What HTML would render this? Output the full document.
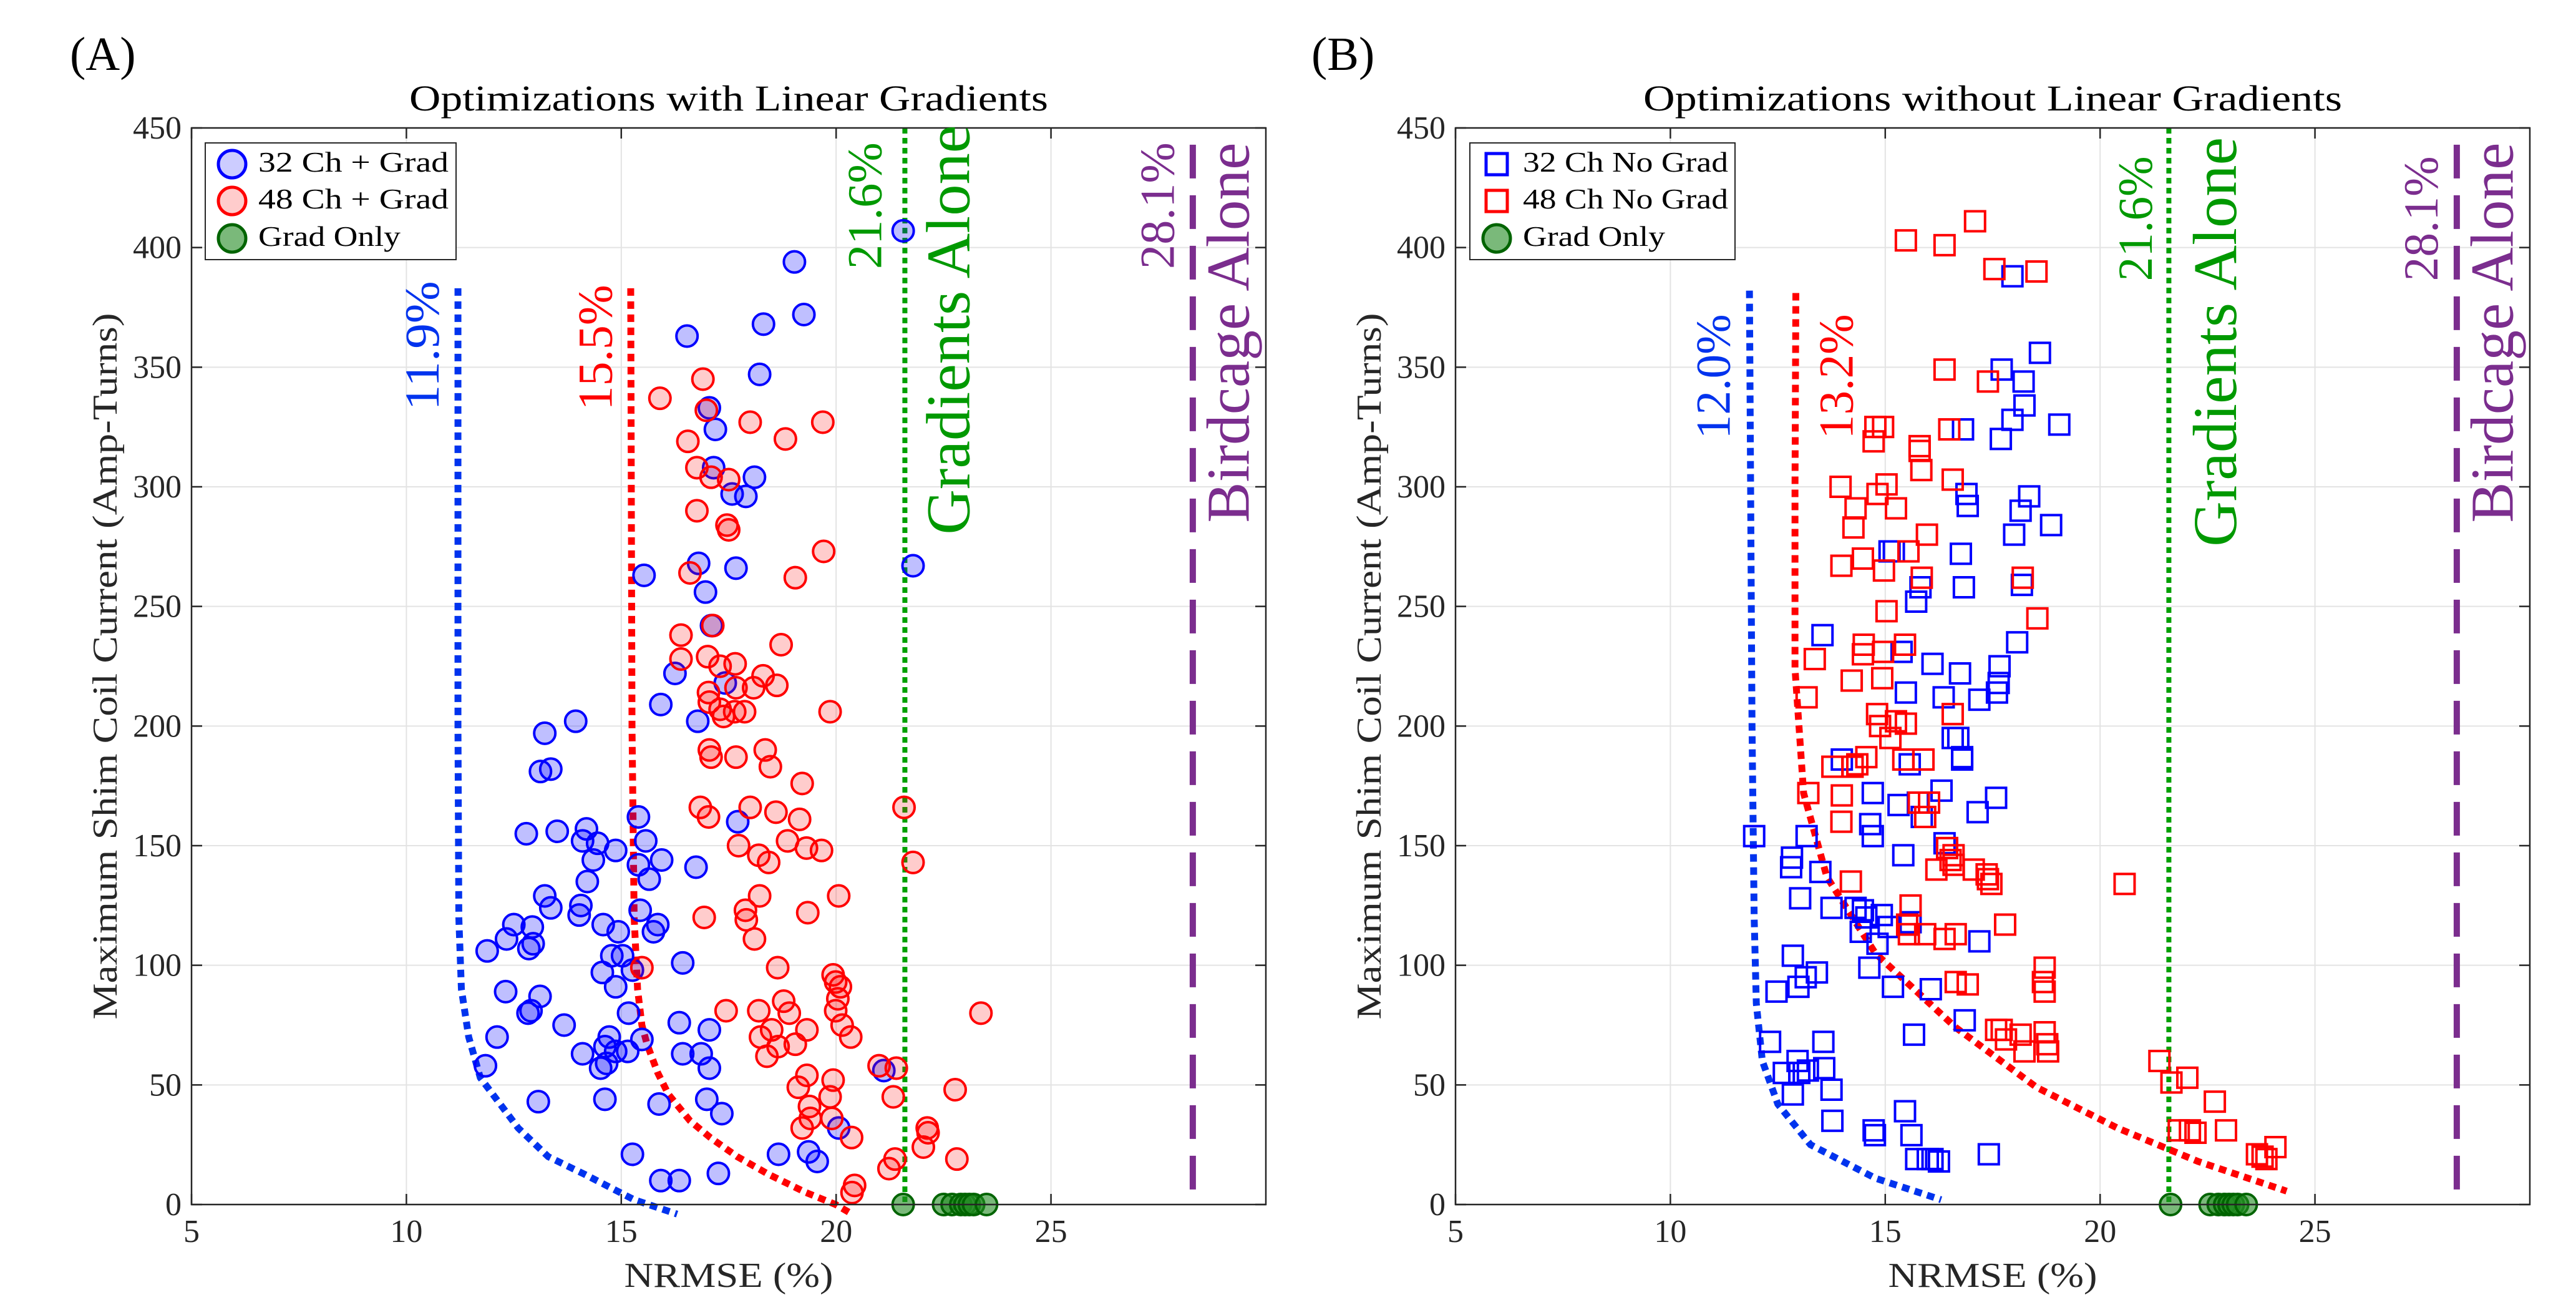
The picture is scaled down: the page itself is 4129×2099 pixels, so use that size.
<!DOCTYPE html>
<html><head><meta charset="utf-8"><style>
html,body{margin:0;padding:0;background:#fff;}
svg{display:block;font-family:"Liberation Serif",serif;}
</style></head><body>
<svg id="fig" width="4129" height="2099" viewBox="0 0 4129 2099" xmlns="http://www.w3.org/2000/svg"></svg>
<script>
// ---------- data ----------
const xTicks=[5,10,15,20,25];
const yTicks=[0,50,100,150,200,250,300,350,400,450];
// Panel A: 32 Ch + Grad
const aBlueX=[21.56,19.03,19.25,16.53,18.31,18.22,17.05,17.19,17.15,18.1,17.58,17.9,16.8,15.53,17.67,21.79,16.96,17.1,16.25,17.42,15.92,16.78,13.94,13.22,13.12,13.36,17.71,15.4,12.79,13.51,14.19,14.1,14.45,15.57,14.87,14.35,15.4,15.94,16.74,15.65,14.21,13.22,13.36,14.06,14.02,12.5,12.93,12.33,12.95,12.85,11.88,14.58,14.93,15.44,15.85,15.75,14.78,15.03,14.56,15.26,16.43,12.31,13.11,14.87,15.17,12.83,12.9,13.67,16.35,17.05,12.11,15.48,14.72,14.62,14.87,15.15,14.1,16.43,16.86,11.84,14.52,14.66,17.05,21.11,14.62,13.07,16.99,15.88,17.34,20.06,18.66,19.36,19.56,15.26,17.26,15.92,16.35];
const aBlueY=[407,394,372,363,368,347,333,324,308,304,297,296,268,263,266,267,256,242,222,218,209,202,202,197,181,182,160,162,155,156,157,152,151,152,148,144,142,144,141,136,135,129,124,125,121,117,116,111,109,107,106,117,114,123,117,114,104,104,97,98,101,89,87,91,80,80,81,75,76,73,70,69,70,66,64,64,63,63,63,58,57,59,57,56,44,43,44,42,38,32,21,22,18,21,13,10,10];
// Panel A: 48 Ch + Grad
const aRedX=[15.9,19.69,18.0,16.98,16.9,16.55,18.82,16.76,17.09,17.5,16.76,17.46,17.5,19.71,19.05,16.6,16.39,16.39,17.01,17.13,17.3,17.65,18.72,18.3,18.08,18.62,17.03,17.05,17.3,17.38,17.64,17.87,17.67,19.86,17.05,17.09,17.67,18.35,18.47,19.21,16.84,17.03,18.0,18.6,19.15,17.73,18.87,19.31,19.66,18.2,18.43,18.22,17.89,17.91,18.1,16.93,20.06,19.34,15.48,18.64,19.93,19.99,20.1,20.04,21.79,21.58,18.78,18.91,19.99,17.44,18.2,18.24,18.5,18.65,18.39,19.05,19.32,20.14,20.34,19.32,19.12,19.93,19.38,19.4,19.21,19.86,19.9,20.36,21.0,21.4,21.33,22.12,22.14,22.03,22.77,22.81,23.37,21.37,21.23,20.43,20.37];
const aRedY=[337,327,327,332,345,319,320,308,304,303,290,284,282,273,262,264,238,228,229,242,225,226,234,221,216,217,214,210,207,204,206,206,216,206,190,187,187,190,183,176,166,162,166,164,161,150,152,149,148,146,143,129,123,119,111,120,129,122,99,99,96,93,91,86,143,166,85,80,81,81,81,70,73,66,62,67,73,75,70,54,49,52,41,36,32,45,36,28,58,57,45,32,30,24,48,19,80,19,15,8,5];
const aGreenX=[21.56,22.5,22.7,22.9,23.0,23.1,23.2,23.5];
const aGreenY=[0,0,0,0,0,0,0,0];
// Panel A pareto curves
const aBlueCurveX=[11.2,11.2,11.22,11.28,11.45,11.72,12.6,13.3,14.15,15.3,16.3];
const aBlueCurveY=[383,200,120,90,70,53,32,20,12.6,2,-4];
const aRedCurveX=[15.22,15.25,15.3,15.38,15.48,15.6,15.85,16.1,16.6,17.07,17.7,18.43,19.3,19.99,20.37];
const aRedCurveY=[383,200,120,90,75,67,55,46,35,28,20,12.6,5,0,-4];
// Panel B: 32 Ch No Grad
const bBlueX=[17.96,18.6,17.71,18.22,18.24,17.96,19.05,16.81,17.69,16.89,16.92,18.35,18.15,18.86,18.0,15.1,15.2,16.76,18.18,16.83,15.82,15.72,13.54,18.07,15.38,16.1,17.66,16.74,17.64,17.6,15.48,16.36,17.19,13.99,16.57,16.7,16.79,16.79,15.57,14.71,16.31,17.58,17.15,15.31,15.76,15.85,14.65,14.71,11.95,13.17,16.38,12.83,12.81,13.49,15.42,13.02,13.75,14.31,14.48,14.56,14.92,14.43,15.08,15.59,17.19,14.82,12.85,14.63,13.41,13.15,12.47,12.98,15.18,16.06,16.85,15.67,12.32,13.56,12.96,12.64,13.0,13.2,13.58,12.85,13.75,13.77,15.46,14.73,14.76,15.61,15.72,15.99,16.1,16.25,17.41];
const bBlueY=[388,356,349,344,334,328,326,324,320,297,292,296,290,284,280,273,273,272,259,258,258,252,238,235,231,226,225,222,218,214,214,212,211,186,195,195,187,186,184,172,173,170,164,167,168,162,159,154,154,154,151,145,141,139,146,128,124,124,123,120,121,114,116,118,110,109,104,99,97,95,89,91,91,90,77,71,68,68,60,55,55,56,57,46,48,35,39,31,29,29,19,19,19,18,21];
// Panel B: 48 Ch No Grad
const bRedX=[17.09,15.48,16.38,17.54,18.52,16.38,17.39,14.77,14.95,14.73,15.8,15.8,16.49,15.84,16.57,13.96,15.03,14.82,15.25,14.31,14.26,15.97,15.54,14.48,13.98,14.97,15.85,18.2,15.03,18.54,15.46,14.5,14.48,14.95,13.36,14.22,14.93,13.17,14.81,16.57,15.25,15.48,14.88,15.12,14.56,13.77,14.24,14.35,15.42,15.89,13.21,13.99,15.78,16.02,15.93,13.98,16.44,16.59,16.52,16.19,16.59,17.06,17.36,17.39,17.47,14.2,20.57,15.59,15.51,15.55,15.93,16.38,16.64,17.79,18.71,18.67,18.71,16.64,16.92,17.58,17.71,17.81,18.15,18.71,18.77,18.24,18.79,21.38,21.66,22.03,21.83,22.09,22.22,22.67,22.93,23.65,23.78,23.87,24.08];
const bRedY=[411,403,401,391,390,349,344,325,325,319,317,315,324,307,303,300,301,297,291,291,283,280,273,270,267,265,262,262,248,245,234,234,230,231,228,219,220,212,205,205,202,201,200,195,187,183,183,184,186,186,172,171,168,168,162,160,149,146,144,140,142,140,138,136,134,135,134,125,117,113,113,111,113,117,99,93,89,93,92,73,73,69,71,72,67,64,64,60,51,53,31,31,30,43,31,21,20,19,24];
const bGreenX=[21.64,22.56,22.75,22.9,23.0,23.1,23.2,23.4];
const bGreenY=[0,0,0,0,0,0,0,0];
const bBlueCurveX=[11.84,11.9,11.95,12.0,12.14,12.5,13.26,14.77,16.3];
const bBlueCurveY=[382,200,120,84,60,42,25,11,2];
const bRedCurveX=[12.92,12.9,12.9,13.1,13.64,14.77,16.64,18.52,20.4,22.28,24.34];
const bRedCurveY=[381,300,224,172,137,105,74,49,32,18,5.6];
const gradLine=21.6, birdLine=28.3;

// ---------- drawing ----------
const NS="http://www.w3.org/2000/svg";
const svg=document.getElementById('fig');
function mk(tag,attrs,parent,text){const e=document.createElementNS(NS,tag);for(const k in attrs)e.setAttribute(k,attrs[k]);if(text!==undefined)e.textContent=text;(parent||svg).appendChild(e);return e;}
const TOP=205,BOT=1930,W=1722,XMIN=5,XMAX=30,YMAX=450;

function panel(L,id,o){
  const g=mk('g',{});
  
  
  const sx=v=>L+(v-XMIN)/(XMAX-XMIN)*W;
  const sy=v=>BOT-v/YMAX*(BOT-TOP);
  // grid
  xTicks.forEach(t=>{const l=mk('line',{x1:sx(t),x2:sx(t),y1:TOP,y2:BOT,stroke:'#e3e3e3','stroke-width':2},g);});
  yTicks.forEach(t=>{const l=mk('line',{x1:L,x2:L+W,y1:sy(t),y2:sy(t),stroke:'#e3e3e3','stroke-width':2},g);});
  // vertical reference lines
  const gl=mk('line',{x1:sx(gradLine),x2:sx(gradLine),y1:sy(450),y2:sy(0),stroke:'#00a000','stroke-width':8,'stroke-dasharray':'9 7'},g);
  
  const bl=mk('line',{x1:sx(birdLine),x2:sx(birdLine),y1:sy(443),y2:sy(0),stroke:'#7b2d8e','stroke-width':10,'stroke-dasharray':'54 27'},g);
  
  // curves
  function curve(xs,ys,col,name){const p=mk('polyline',{points:xs.map((x,i)=>sx(x)+','+sy(ys[i])).join(' '),fill:'none',stroke:col,'stroke-width':11,'stroke-dasharray':'12 9'},g);}
  curve(o.bcx,o.bcy,'#0033ee',id+'-blue-pareto-curve');
  curve(o.rcx,o.rcy,'#ff0000',id+'-red-pareto-curve');
  // markers
  function pts(xs,ys,col,fill,shape,name){xs.forEach((x,i)=>{let e;
    if(shape==='c')e=mk('circle',{cx:sx(x),cy:sy(ys[i]),r:17,fill:fill,stroke:col,'stroke-width':4},g);
    else e=mk('rect',{x:sx(x)-16,y:sy(ys[i])-16,width:32,height:32,fill:fill,stroke:col,'stroke-width':4},g);
    });}
  pts(o.bx,o.by,'#0000ff',o.shape==='c'?'rgba(0,0,255,0.25)':'none',o.shape,id+'-blue-point');
  pts(o.rx,o.ry,'#ff0000',o.shape==='c'?'rgba(255,0,0,0.2)':'none',o.shape,id+'-red-point');
  pts(o.gx,o.gy,'#006400','rgba(34,139,34,0.6)','c',id+'-grad-only-point');
  // axes box & ticks
  const ax=mk('rect',{x:L,y:TOP,width:W,height:BOT-TOP,fill:'none',stroke:'#262626','stroke-width':2.5},g);
  
  xTicks.forEach(t=>{mk('line',{x1:sx(t),x2:sx(t),y1:BOT,y2:BOT-17,stroke:'#262626','stroke-width':2.5},g);mk('line',{x1:sx(t),x2:sx(t),y1:TOP,y2:TOP+17,stroke:'#262626','stroke-width':2.5},g);
    const tl=mk('text',{x:sx(t),y:1990,'text-anchor':'middle','font-size':52,fill:'#262626'},g,String(t));});
  yTicks.forEach(t=>{mk('line',{x1:L,x2:L+17,y1:sy(t),y2:sy(t),stroke:'#262626','stroke-width':2.5},g);mk('line',{x1:L+W,x2:L+W-17,y1:sy(t),y2:sy(t),stroke:'#262626','stroke-width':2.5},g);
    const tl=mk('text',{x:L-16,y:sy(t)+17,'text-anchor':'end','font-size':52,fill:'#262626'},g,String(t));});
  // titles
  const tt=mk('text',{x:L+W/2,y:177,'text-anchor':'middle','font-size':58,fill:'#000',textLength:o.titleLen,lengthAdjust:'spacingAndGlyphs'},g,o.title);
  
  const xl=mk('text',{x:L+W/2,y:2062,'text-anchor':'middle','font-size':56,fill:'#262626',textLength:335,lengthAdjust:'spacingAndGlyphs'},g,'NRMSE (%)');
  
  const yl=mk('text',{x:0,y:0,'text-anchor':'middle','font-size':56,fill:'#262626',textLength:1132,lengthAdjust:'spacingAndGlyphs',transform:`translate(${L-120},${(TOP+BOT)/2}) rotate(-90)`},g,'Maximum Shim Coil Current (Amp-Turns)');
  
  const pl=mk('text',{x:o.plx,y:112,'font-size':76,fill:'#000'},g,o.plabel);
  
  // rotated annotations
  function rlab(txt,x,y,col,size,len,name){const t=mk('text',{x:0,y:0,'font-size':size,fill:col,textLength:len,lengthAdjust:'spacingAndGlyphs',transform:`translate(${sx(x)},${sy(y)}) rotate(-90)`},g,txt);}
  o.labels.forEach(a=>rlab(a[0],a[1],a[2],a[3],a[4],a[5],a[6]));
  // legend
  const lg=mk('g',{},g);
  mk('rect',{x:o.lgx,y:229,width:o.lgw,height:187,fill:'#fff',stroke:'#262626','stroke-width':2},lg);
  const rows=[263,322,382];
  o.leg.forEach((en,i)=>{const e=mk('g',{},lg);
    if(en[2]==='c')mk('circle',{cx:o.mkx,cy:rows[i],r:22,fill:en[3],stroke:en[1],'stroke-width':5},e);
    else mk('rect',{x:o.mkx-17,y:rows[i]-17,width:34,height:34,fill:'none',stroke:en[1],'stroke-width':5},e);
    mk('text',{x:o.tx,y:rows[i]+12,'font-size':46,fill:'#000',textLength:en[4],lengthAdjust:'spacingAndGlyphs'},e,en[0]);});
}

panel(307,'panel-a',{bx:aBlueX,by:aBlueY,rx:aRedX,ry:aRedY,gx:aGreenX,gy:aGreenY,bcx:aBlueCurveX,bcy:aBlueCurveY,rcx:aRedCurveX,rcy:aRedCurveY,shape:'c',
  title:'Optimizations with Linear Gradients',titleLen:1024,plabel:'(A)',plx:112,
  labels:[['11.9%',10.75,332,'#0033ee',78,207,'blue-limit-label'],['15.5%',14.78,332,'#ff0000',78,201,'red-limit-label'],['21.6%',21.05,391,'#009900',78,203,'gradients-percent-label'],['Gradients Alone',23.1,280,'#009900',100,656,'gradients-alone-label'],['28.1%',27.86,391,'#7b2d8e',78,203,'birdcage-percent-label'],['Birdcage Alone',29.6,285,'#7b2d8e',98,609,'birdcage-alone-label']],
  lgx:329,lgw:402,mkx:372,tx:414,
  leg:[['32 Ch + Grad','#0000ff','c','rgba(0,0,255,0.2)',305],['48 Ch + Grad','#ff0000','c','rgba(255,0,0,0.2)',305],['Grad Only','#006400','c','rgba(34,139,34,0.6)',228]]});
panel(2333,'panel-b',{bx:bBlueX,by:bBlueY,rx:bRedX,ry:bRedY,gx:bGreenX,gy:bGreenY,bcx:bBlueCurveX,bcy:bBlueCurveY,rcx:bRedCurveX,rcy:bRedCurveY,shape:'s',
  title:'Optimizations without Linear Gradients',titleLen:1120,plabel:'(B)',plx:2102,
  labels:[['12.0%',11.38,320,'#0033ee',78,200,'blue-limit-label'],['13.2%',14.24,320,'#ff0000',78,200,'red-limit-label'],['21.6%',21.2,386,'#009900',78,200,'gradients-percent-label'],['Gradients Alone',23.16,275,'#009900',100,656,'gradients-alone-label'],['28.1%',27.85,386,'#7b2d8e',78,200,'birdcage-percent-label'],['Birdcage Alone',29.6,285,'#7b2d8e',98,609,'birdcage-alone-label']],
  lgx:2356,lgw:425,mkx:2399,tx:2441,
  leg:[['32 Ch No Grad','#0000ff','s','none',329],['48 Ch No Grad','#ff0000','s','none',329],['Grad Only','#006400','c','rgba(34,139,34,0.6)',228]]});
</script>
</body></html>
